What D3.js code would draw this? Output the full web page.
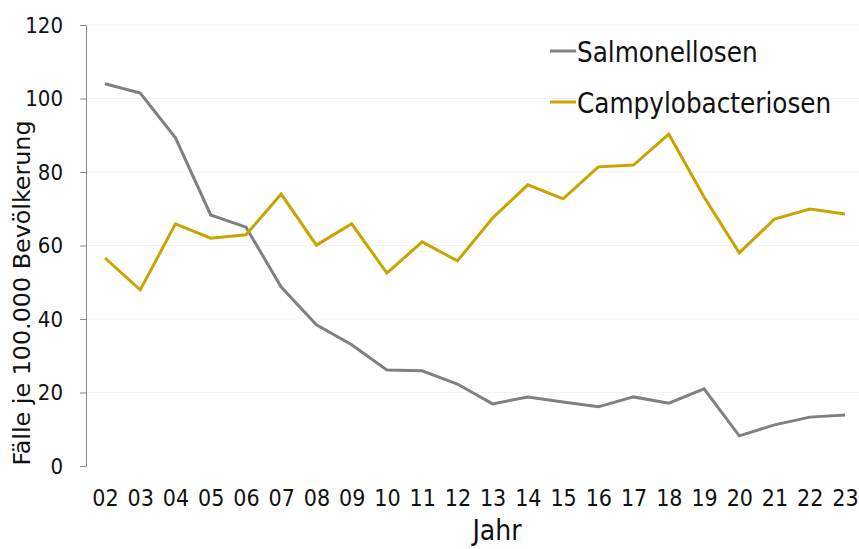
<!DOCTYPE html>
<html lang="de">
<head>
    <meta charset="UTF-8">
    <title>Salmonellosen und Campylobacteriosen</title>
    <style>
        body { margin: 0; background: #fff; }
        svg text { font-family: "DejaVu Sans Condensed", "DejaVu Sans", sans-serif; fill: #111; }
    </style>
</head>
<body>
    <script src="https://d3js.org/d3.v7.min.js"></script>
    <script>
        const years = ['02', '03', '04', '05', '06', '07', '08', '09', '10', '11', '12',
            '13', '14', '15', '16', '17', '18', '19', '20', '21', '22', '23']
        const salmonellosen = [104, 101.5, 89.3, 68.3, 65, 48.7, 38.4, 33, 26.1, 25.9, 22.3,
            16.9, 18.8, 17.4, 16.1, 18.8, 17.1, 21, 8.2, 11.2, 13.3, 13.9]
        const campylo = [56.6, 47.9, 65.9, 62, 62.9, 74, 60.1, 65.9, 52.5, 61, 55.8,
            67.5, 76.5, 72.7, 81.4, 81.9, 90.3, 73.2, 58, 67.2, 69.9, 68.6]
        const yTicks = [0, 20, 40, 60, 80, 100, 120]
        const seriesNames = ['Salmonellosen', 'Campylobacteriosen']
        const colors = ['#808080', '#c9a400']

        const width = 859
        const height = 549
        const svg = d3.select('body')
            .append('svg')
            .attr('width', width)
            .attr('height', height)

        const x = d3.scalePoint()
            .domain(years)
            .range([105, 845])

        const y = d3.scaleLinear()
            .domain([0, 120])
            .range([466, 25])

        // faint grid
        svg.append('g')
            .selectAll('line')
            .data(yTicks.slice(1))
            .join('line')
            .attr('x1', 86)
            .attr('x2', 859)
            .attr('y1', d => y(d))
            .attr('y2', d => y(d))
            .attr('stroke', '#f3f3f3')

        const yAxis = svg.append('g')
            .attr('transform', 'translate(86,0)')
            .call(d3.axisLeft(y).tickValues(yTicks).tickSize(6).tickPadding(17))
        yAxis.select('.domain').attr('stroke', '#888')
        yAxis.selectAll('.tick line').attr('stroke', '#888')
        yAxis.selectAll('text').attr('font-size', 22).attr('font-family', null)

        const xAxis = svg.append('g')
            .attr('transform', 'translate(0,466)')
            .call(d3.axisBottom(x).tickSize(0).tickPadding(24))
        xAxis.select('.domain').remove()
        xAxis.selectAll('text').attr('font-size', 23).attr('font-family', null)

        svg.append('text')
            .attr('x', 497)
            .attr('y', 540)
            .attr('text-anchor', 'middle')
            .attr('font-size', 28)
            .text('Jahr')

        svg.append('text')
            .attr('transform', 'translate(30,293) rotate(-90)')
            .attr('text-anchor', 'middle')
            .attr('font-size', 22.5)
            .attr('textLength', 345)
            .attr('lengthAdjust', 'spacingAndGlyphs')
            .text('Fälle je 100.000 Bevölkerung')

        const line = d3.line()
            .x((d, i) => x(years[i]))
            .y(d => y(d))

        ;[salmonellosen, campylo].forEach((data, k) => {
            svg.append('path')
                .datum(data)
                .attr('fill', 'none')
                .attr('stroke', colors[k])
                .attr('stroke-width', 3)
                .attr('stroke-linejoin', 'miter')
                .attr('d', line)
        })

        const legend = svg.append('g')
        seriesNames.forEach((name, k) => {
            const ly = 51 + k * 51
            legend.append('line')
                .attr('x1', 550)
                .attr('x2', 576)
                .attr('y1', ly)
                .attr('y2', ly)
                .attr('stroke', colors[k])
                .attr('stroke-width', 3)
            legend.append('text')
                .attr('x', 577)
                .attr('y', ly + 11)
                .attr('font-size', 27.5)
                .text(name)
        })
    </script>
</body>
</html>
